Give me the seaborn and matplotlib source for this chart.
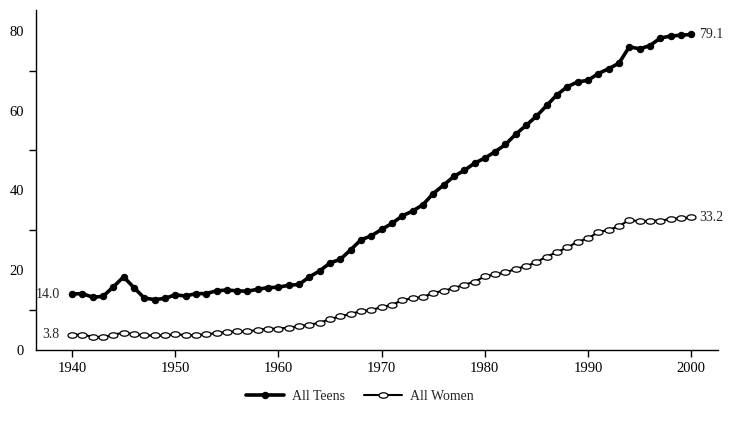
import numpy as np
import pandas as pd
import seaborn as sns
import matplotlib.pyplot as plt
from matplotlib.ticker import MultipleLocator

years = list(range(1940, 2001))

all_teens = [14.0, 14.1, 13.2, 13.4, 15.8, 18.3, 15.6, 13.0, 12.6, 12.9,
             13.8, 13.5, 14.1, 14.1, 14.8, 15.0, 14.8, 14.7, 15.2, 15.6,
             15.7, 16.2, 16.4, 18.3, 19.8, 21.8, 22.7, 25.1, 27.6, 28.6,
             30.2, 31.7, 33.6, 34.8, 36.4, 39.2, 41.3, 43.5, 45.0, 46.8,
             48.1, 49.7, 51.5, 54.1, 56.3, 58.6, 61.3, 64.0, 66.0, 67.2,
             67.6, 69.3, 70.5, 71.9, 76.0, 75.5, 76.3, 78.2, 78.7, 78.9,
             79.1]

all_women = [3.8, 3.8, 3.3, 3.1, 3.8, 4.3, 3.9, 3.6, 3.6, 3.6,
             3.9, 3.7, 3.7, 3.9, 4.2, 4.5, 4.6, 4.6, 5.0, 5.3,
             5.3, 5.6, 5.9, 6.3, 6.8, 7.7, 8.4, 9.0, 9.7, 10.0,
             10.7, 11.3, 12.4, 13.0, 13.2, 14.3, 14.8, 15.5, 16.3, 17.1,
             18.4, 18.9, 19.4, 20.3, 21.0, 22.0, 23.4, 24.5, 25.7, 27.1,
             28.0, 29.5, 30.1, 31.0, 32.6, 32.2, 32.4, 32.4, 32.8, 33.0,
             33.2]

series = ['All Teens', 'All Women']

df = pd.DataFrame({
    'year': years * 2,
    'value': all_teens + all_women,
    'series': [series[0]] * len(years) + [series[1]] * len(years),
})

sns.set_style('white')
plt.rcParams['font.family'] = ['Liberation Serif', 'DejaVu Serif']

# flattened ellipse for the open markers
t = np.linspace(0, 2 * np.pi, 40)
ellipse = np.column_stack([np.cos(t), 0.6 * np.sin(t)])

fig = plt.figure(figsize=(7.48, 4.22), dpi=100)
ax = fig.add_axes([0.048, 0.171, 0.912, 0.805])

sns.lineplot(data=df[df.series == series[0]], x='year', y='value', ax=ax,
             color='black', linewidth=2.6, marker='o', markersize=4.6,
             markerfacecolor='black', markeredgecolor='black', label=series[0])
sns.lineplot(data=df[df.series == series[1]], x='year', y='value', ax=ax,
             color='black', linewidth=1.5, marker=ellipse, markersize=6.5,
             markerfacecolor='white', markeredgecolor='black',
             markeredgewidth=0.9, label=series[1])

ax.set_xlim(1936.5, 2002.6)
ax.set_ylim(0, 85.2)
ax.set_xticks(range(1940, 2001, 10))
ax.yaxis.set_major_locator(MultipleLocator(20))
ax.yaxis.set_minor_locator(MultipleLocator(10))
ax.tick_params(axis='both', which='both', direction='out', length=5,
               width=1, color='black', labelsize=10.5, labelcolor='black')
ax.tick_params(axis='y', which='minor', left=True)
ax.tick_params(axis='x', bottom=True)
ax.set_xlabel('')
ax.set_ylabel('')

for s in ['top', 'right']:
    ax.spines[s].set_visible(False)
for s in ['left', 'bottom']:
    ax.spines[s].set_color('black')
    ax.spines[s].set_linewidth(1)

ax.text(years[0] - 1.2, all_teens[0], f'{all_teens[0]:.1f}', ha='right',
        va='center', fontsize=10)
ax.text(years[0] - 1.2, all_women[0], f'{all_women[0]:.1f}', ha='right',
        va='center', fontsize=10)
ax.text(years[-1] + 0.8, all_teens[-1], f'{all_teens[-1]:.1f}', ha='left',
        va='center', fontsize=10)
ax.text(years[-1] + 0.8, all_women[-1], f'{all_women[-1]:.1f}', ha='left',
        va='center', fontsize=10)

ax.legend(loc='upper center', bbox_to_anchor=(0.475, -0.08), ncol=2,
          frameon=False, fontsize=10, handlelength=2.7, handletextpad=0.6,
          columnspacing=1.4)

fig.savefig('out.png', dpi=100)
